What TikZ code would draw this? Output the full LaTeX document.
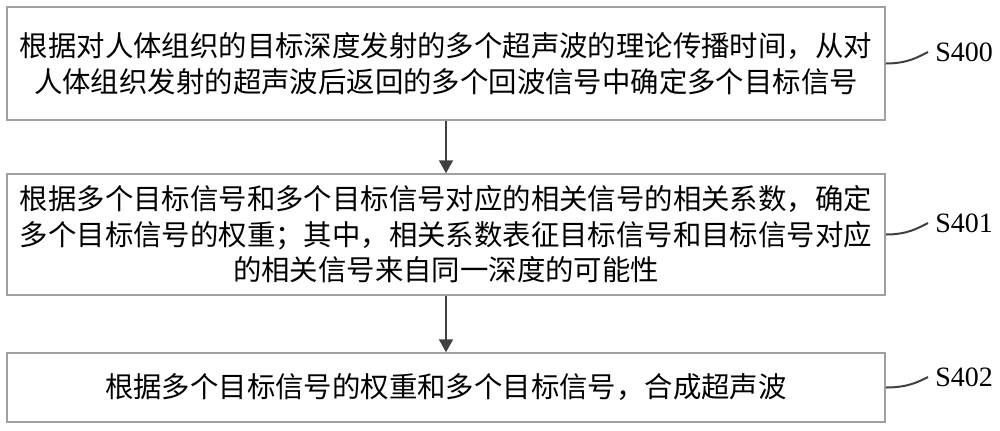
\documentclass[tikz,border=0pt]{standalone}
\usepackage{fontspec}
\setmainfont{Liberation Serif}
\newfontfamily\cjkfont{Noto Sans CJK SC}
\usepackage{tikz}
\usetikzlibrary{arrows.meta, positioning}
\definecolor{boxgray}{RGB}{160, 160, 160}
\definecolor{linegray}{RGB}{64, 64, 64}
\tikzset{
  >=Triangle,
  stepbox/.style={draw=boxgray, line width=0.75pt, minimum width=439pt, inner xsep=5pt,
    text width=429pt, align=center, font=\cjkfont\fontsize{14.2}{17.8}\selectfont},
  flowarrow/.style={-{Triangle[length=6.5pt, width=7pt]}, line width=1pt, linegray},
  steplabel/.style={anchor=west, inner sep=3.5pt, font=\fontsize{14}{16}\selectfont},
  wavyline/.style={line width=1pt, linegray}
}
\begin{document}
\begin{tikzpicture}[x=0.5pt, y=-0.5pt]
    \useasboundingbox (0,0) rectangle (1000,430);
    \node (b400) [stepbox, minimum height=56.5pt] at (446, 63.5) {根据对人体组织的目标深度发射的多个超声波的理论传播时间，从对\\人体组织发射的超声波后返回的多个回波信号中确定多个目标信号};
    \node (b401) [stepbox, minimum height=60.5pt] at (446, 234.5) {根据多个目标信号和多个目标信号对应的相关信号的相关系数，确定\\多个目标信号的权重；其中，相关系数表征目标信号和目标信号对应\\的相关信号来自同一深度的可能性};
    \node (b402) [stepbox, minimum height=34.5pt] at (446, 387.5) {根据多个目标信号的权重和多个目标信号，合成超声波};

    \node (l400) [steplabel] at (928, 52) {S400};
    \node (l401) [steplabel] at (928, 223) {S401};
    \node (l402) [steplabel] at (928, 377) {S402};

    \draw[flowarrow] (b400) -- (b401);
    \draw[flowarrow] (b401) -- (b402);
    \draw[wavyline] (b400.east) .. controls +(22,0) and +(-10,5) .. (l400.west);
    \draw[wavyline] (b401.east) .. controls +(22,0) and +(-10,5) .. (l401.west);
    \draw[wavyline] (b402.east) .. controls +(22,0) and +(-10,5) .. (l402.west);
\end{tikzpicture}
\end{document}
